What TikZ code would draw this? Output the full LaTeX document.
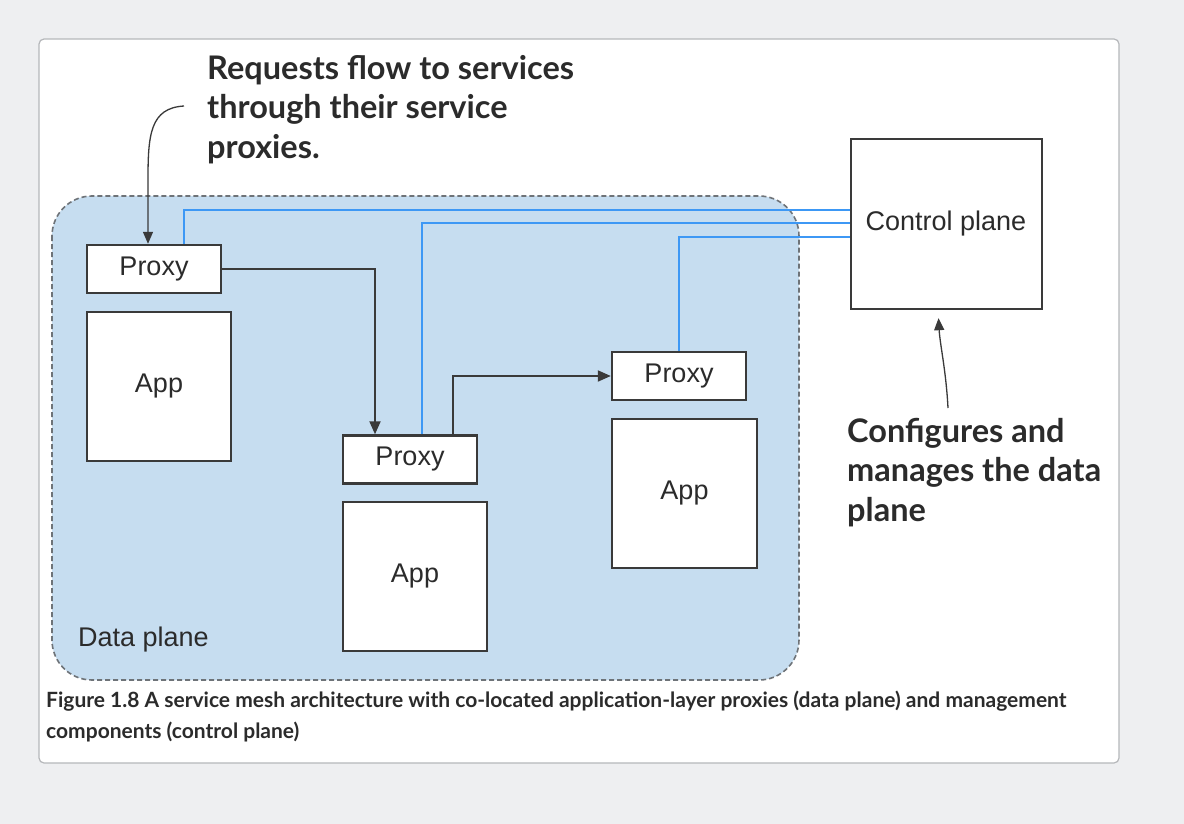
\documentclass[tikz,border=0pt]{standalone}
\usepackage{fontspec}
\setmainfont{Liberation Sans}
\newfontfamily\notefont{Lato}
\usetikzlibrary{arrows.meta,calc}

\definecolor{pagebg}{HTML}{EEEFF1}
\definecolor{cardedge}{HTML}{B5B7BA}
\definecolor{planefill}{HTML}{C6DDF0}
\definecolor{planeedge}{HTML}{6E7378}
\definecolor{boxedge}{HTML}{3A3A3A}
\definecolor{meshblue}{HTML}{3D98F5}
\definecolor{inkdark}{HTML}{2B2B2B}

\tikzset{
  box/.style={draw=boxedge, line width=2.4pt, fill=white, inner sep=0pt,
    text=inkdark, font=\fontsize{27}{30}\selectfont},
  proxybox/.style={box, minimum width=134pt, minimum height=48pt},
  appbox/.style={box, minimum width=144pt, minimum height=149pt},
  blueline/.style={draw=meshblue, line width=2pt},
  flow/.style={draw=boxedge, line width=2pt, -{Triangle[length=13pt,width=11pt]}},
  note/.style={inner sep=0pt, align=left, text=inkdark,
    font=\notefont\bfseries\fontsize{32.5}{39.5}\selectfont},
  pointer/.style={draw=boxedge, line width=1.3pt, -{Triangle[length=12pt,width=10pt]}},
}

\begin{document}
\begin{tikzpicture}[x=1pt,y=-1pt]
  % page and card
  \fill[pagebg] (0,0) rectangle (1184,824);
  \useasboundingbox (0,0) rectangle (1184,824);
  \draw[cardedge, line width=1.2pt, fill=white, rounded corners=5pt] (39,39) rectangle (1119,763);

  % data plane region
  \draw[planeedge, line width=1.6pt, dash pattern=on 5pt off 3pt, fill=planefill,
    rounded corners=40pt] (52,196) rectangle (799,680);
  \node[anchor=west, inner sep=0pt, text=inkdark, font=\fontsize{27}{30}\selectfont]
    (dplabel) at (78,640) {Data plane};

  % proxies and apps
  \node[proxybox] (p1) at (154,269) {Proxy};
  \node[appbox]   (a1) at (159,386.5) {App};
  \node[proxybox] (p2) at (410,459.5) {Proxy};
  \node[appbox]   (a2) at (415,576.5) {App};
  \node[proxybox] (p3) at (679,376) {Proxy};
  \node[appbox, minimum width=145pt] (a3) at (684.5,493.5) {App};

  % control plane
  \node[box, minimum width=191pt, minimum height=170pt] (cp) at (946.5,224) {};
  \node[text=inkdark, font=\fontsize{27}{30}\selectfont] (cptext) at (946,224) {Control plane};

  % control links
  \draw[blueline] ($(p1.north)+(30,0)$) |- ($(cp.west)+(0,-14)$);
  \draw[blueline] ($(p2.north)+(12,0)$) |- ($(cp.west)+(0,-1)$);
  \draw[blueline] (p3.north) |- ($(cp.west)+(0,13)$);

  % request flow
  \draw[flow] (p1.east) -| ($(p2.north)+(-35,0)$);
  \draw[flow] ($(p2.north)+(43,0)$) |- (p3.west);

  % annotations
  \node[note, anchor=north west] (reqnote) at (207,55)
    {Requests flow to services\\through their service\\proxies.};
  \coordinate (reqtail) at (184,106);
  \draw[pointer] (reqtail) .. controls (150,108) and (148,135) .. (148,180)
    -- ($(p1.north)+(-6,0)$);

  \node[note, anchor=north west] (cfgnote) at (847,418)
    {Configures and\\manages the data\\plane};
  \coordinate (cfgtail) at (948,408);
  \draw[pointer] (cfgtail) .. controls (946,370) and (940,345) .. ($(cp.south)+(-8,8)$);

  % caption
  \node[anchor=north west, inner sep=0pt, align=left, text=inkdark,
    font=\notefont\bfseries\fontsize{21}{30.5}\selectfont] (caption) at (46,691)
    {Figure 1.8 A service mesh architecture with co-located application-layer proxies (data plane) and management\\components (control plane)};
\end{tikzpicture}
\end{document}
